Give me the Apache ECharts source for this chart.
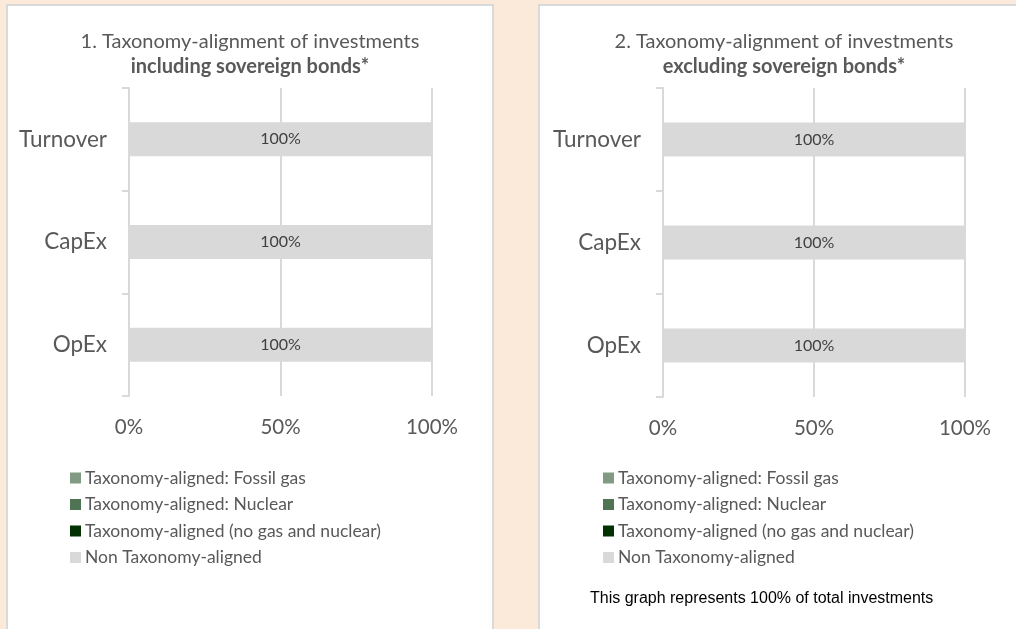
<!DOCTYPE html>
<html>
<head>
<meta charset="utf-8">
<script src="https://cdn.jsdelivr.net/npm/echarts@6/dist/echarts.min.js"></script>
<style>
  html, body { margin: 0; padding: 0; background: #FBE9D9; }
  #main { width: 1016px; height: 629px; }
</style>
</head>
<body>
<div id="main"></div>
<script>
// data
let categories = ['Turnover', 'CapEx', 'OpEx'];
let seriesNames = [
  'Taxonomy-aligned: Fossil gas',
  'Taxonomy-aligned: Nuclear',
  'Taxonomy-aligned (no gas and nuclear)',
  'Non Taxonomy-aligned'
];
let seriesColors = ['#819B82', '#4E7453', '#023102', '#D9D9D9'];
// chart 1 (including sovereign bonds)
let incFossil = [0, 0, 0];
let incNuclear = [0, 0, 0];
let incAligned = [0, 0, 0];
let incNon = [100, 100, 100];
// chart 2 (excluding sovereign bonds)
let excFossil = [0, 0, 0];
let excNuclear = [0, 0, 0];
let excAligned = [0, 0, 0];
let excNon = [100, 100, 100];
let xTicks = [0, 50, 100];

let txt = '#595959';
let font = 'Lato';

let chart = echarts.init(document.getElementById('main'));

let makeSeries = (idx, lists) => lists.map((d, i) => ({
  name: seriesNames[i],
  type: 'bar',
  stack: 'total' + idx,
  xAxisIndex: idx,
  yAxisIndex: idx,
  barWidth: 34,
  itemStyle: { color: seriesColors[i] },
  label: {
    show: i === 3,
    position: 'inside',
    formatter: p => p.value + '%',
    color: '#404040',
    fontSize: 16,
    fontFamily: font
  },
  emphasis: { disabled: true },
  data: d
}));

let xAxisCfg = (idx) => ({
  gridIndex: idx,
  type: 'value',
  min: xTicks[0],
  max: xTicks[xTicks.length - 1],
  interval: 50,
  axisLine: { show: false },
  axisTick: { show: false },
  axisLabel: { formatter: '{value}%', color: txt, fontSize: 20.5, fontFamily: font, margin: 21 },
  splitLine: { show: true, lineStyle: { color: '#D9D9D9', width: 2 } }
});

let yAxisCfg = (idx) => ({
  gridIndex: idx,
  type: 'category',
  inverse: true,
  data: categories,
  axisLine: { show: true, lineStyle: { color: '#D9D9D9', width: 2 } },
  axisTick: { show: true, length: 7, lineStyle: { color: '#D9D9D9', width: 2 } },
  axisLabel: { color: txt, fontSize: 22.5, fontFamily: font, margin: 22 }
});

let legendCfg = (left) => ({
  orient: 'vertical',
  left: left,
  top: 469,
  padding: 0,
  icon: 'rect',
  itemWidth: 11,
  itemHeight: 11,
  itemGap: 8.5,
  selectedMode: false,
  data: seriesNames,
  textStyle: { color: txt, fontSize: 17.5, fontFamily: font, lineHeight: 18, padding: [0, 0, 0, -1] }
});

let option = {
  backgroundColor: '#FBE9D9',
  animation: false,
  graphic: [
    { type: 'rect', shape: { x: 7, y: 5, width: 486, height: 640 },
      style: { fill: '#fff', stroke: '#D9D9D9', lineWidth: 2 }, z: -10 },
    { type: 'rect', shape: { x: 539, y: 5, width: 500, height: 640 },
      style: { fill: '#fff', stroke: '#D9D9D9', lineWidth: 2 }, z: -10 },
    { type: 'text', left: 590, top: 591,
      style: { text: 'This graph represents 100% of total investments', fill: '#000',
        font: '16px "Liberation Sans", Arial, sans-serif' } }
  ],
  title: [
    { text: '1. Taxonomy-alignment of investments', subtext: 'including sovereign bonds*',
      left: 245, top: 27, textAlign: 'center', itemGap: 5,
      textStyle: { color: txt, fontSize: 20, fontWeight: 'normal', fontFamily: font },
      subtextStyle: { color: txt, fontSize: 20, fontWeight: 'bold', fontFamily: font } },
    { text: '2. Taxonomy-alignment of investments', subtext: 'excluding sovereign bonds*',
      left: 779, top: 27, textAlign: 'center', itemGap: 5,
      textStyle: { color: txt, fontSize: 20, fontWeight: 'normal', fontFamily: font },
      subtextStyle: { color: txt, fontSize: 20, fontWeight: 'bold', fontFamily: font } }
  ],
  legend: [legendCfg(70), legendCfg(603)],
  grid: [
    { left: 129, width: 303, top: 88, height: 308 },
    { left: 663, width: 302, top: 88, height: 309 }
  ],
  xAxis: [xAxisCfg(0), xAxisCfg(1)],
  yAxis: [yAxisCfg(0), yAxisCfg(1)],
  series: [
    ...makeSeries(0, [incFossil, incNuclear, incAligned, incNon]),
    ...makeSeries(1, [excFossil, excNuclear, excAligned, excNon])
  ]
};

chart.setOption(option);
</script>
</body>
</html>
